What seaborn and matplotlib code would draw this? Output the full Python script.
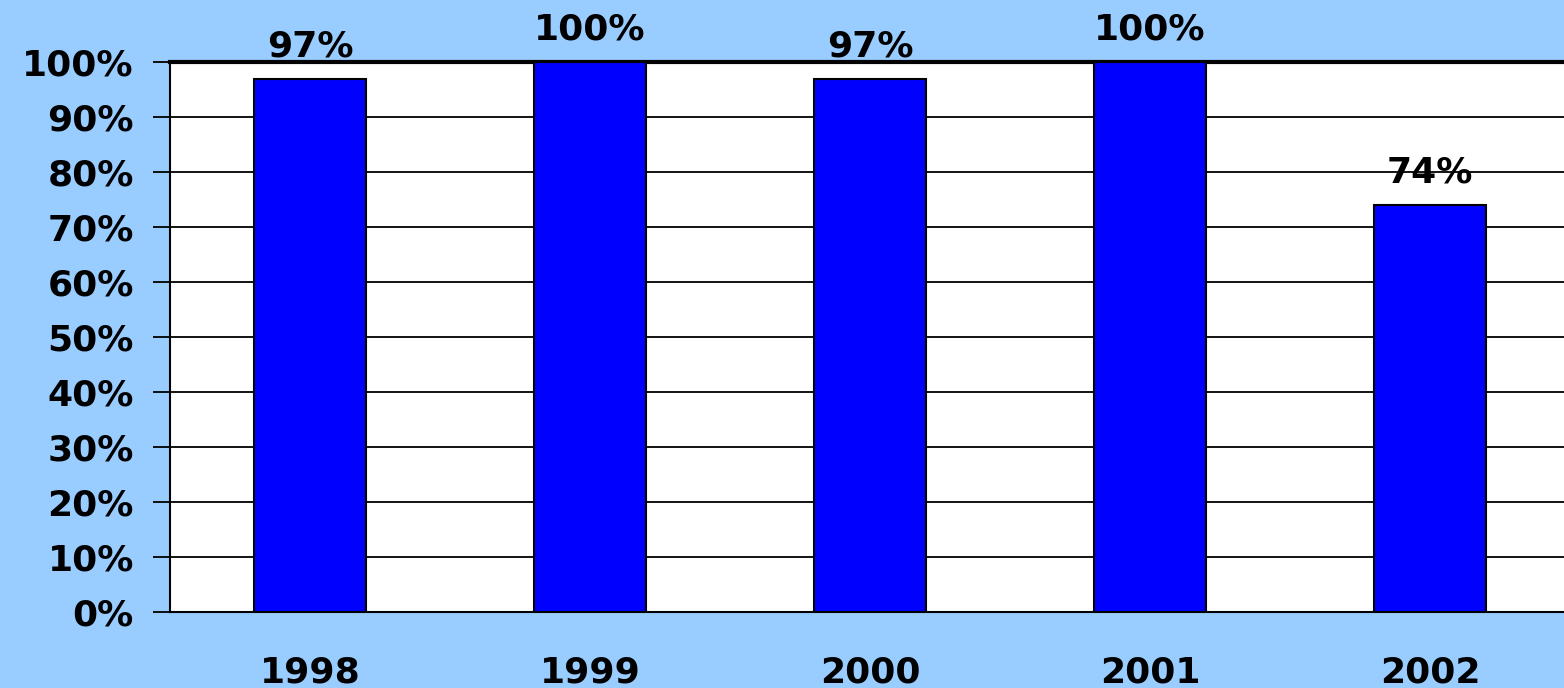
import numpy as np
import pandas as pd
import seaborn as sns
import matplotlib.pyplot as plt
from matplotlib.ticker import MultipleLocator, FixedLocator

# Data
years = ["1998", "1999", "2000", "2001", "2002"]
shares = [97, 100, 97, 100, 74]

df = pd.DataFrame({"year": years, "share": shares})

sns.set_style("white")
plt.rcParams['font.family'] = ['DejaVu Sans']
plt.rcParams['text.color'] = 'black'
plt.rcParams['xtick.color'] = 'black'
plt.rcParams['ytick.color'] = 'black'
plt.rcParams['xtick.labelcolor'] = 'black'
plt.rcParams['ytick.labelcolor'] = 'black'

fig = plt.figure(figsize=(15.64, 6.88), dpi=100, facecolor="#99CCFF")
ax = fig.add_axes([170 / 1564, 1 - 612 / 688, 1400 / 1564, 550 / 688])
ax.set_facecolor("white")

sns.barplot(data=df, x="year", y="share", color="#0000FF", saturation=1,
            width=0.4, edgecolor="black", linewidth=1.5, ax=ax, zorder=3)

ax.set_ylim(0, 100)
ax.set_xlim(-0.5, len(years) - 0.5)
ax.yaxis.set_major_locator(MultipleLocator(10))
ax.set_yticklabels([f"{int(v)}%" for v in ax.get_yticks()])
ax.grid(axis="y", color="black", linewidth=1.3, zorder=0)
ax.set_axisbelow(True)

# tick marks between categories, labels centred
ax.xaxis.set_minor_locator(FixedLocator(np.arange(-0.5, len(years), 1.0)))
ax.tick_params(axis="x", which="major", length=0, pad=31)
ax.tick_params(axis="x", which="minor", length=12, width=1.3, color="black", direction="out")
ax.tick_params(axis="y", length=12, width=1.3, color="black", direction="out", left=True, pad=14)
for lab in ax.get_xticklabels() + ax.get_yticklabels():
    lab.set_fontsize(26)
    lab.set_fontweight("bold")
    lab.set_color("black")

for side in ["left", "bottom"]:
    ax.spines[side].set_color("black")
    ax.spines[side].set_linewidth(1.5)
ax.spines["top"].set_color("black")
ax.spines["top"].set_linewidth(3)
ax.spines["right"].set_visible(False)

ax.bar_label(ax.containers[0], labels=[f"{v}%" for v in shares], padding=11,
             fontsize=26, fontweight="bold", color="black", clip_on=False)

ax.set_xlabel("")
ax.set_ylabel("")

fig.savefig("out.png", dpi=100, facecolor=fig.get_facecolor())
